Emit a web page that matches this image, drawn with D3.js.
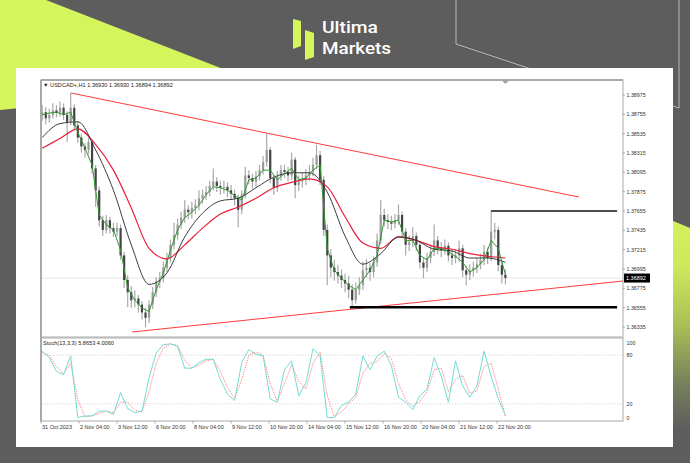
<!DOCTYPE html>
<html><head><meta charset="utf-8">
<script src="https://cdn.jsdelivr.net/npm/d3@7"></script>
<style>html,body{margin:0;padding:0;background:#5d5d5d;}svg{display:block;}</style>
</head><body>
<svg id="c" width="690" height="463"></svg>
<script>
// ---------------- DATA ----------------
const symbolTitle = "USDCAD+,H1  1.36930 1.36930 1.36894 1.36892";
const stochTitle = "Stoch(13,3,3) 5.8653 4.0060";
const lastPrice = 1.36892;
const firstOpen = 1.3874;
// 3-hour candles (each = 3 H1 bars)
const closes = [
1.3878,1.3871,1.3875,1.3880,1.3877,1.3883,1.3875,1.3867,1.3883,1.3863,
1.3849,1.3839,1.3835,1.3844,1.3814,1.3789,1.3755,1.3744,1.3755,1.3746,
1.3742,1.3746,1.3715,1.3687,1.3673,1.3664,1.3666,1.3659,1.3650,1.3644,
1.3659,1.3673,1.3685,1.3689,1.3701,1.3712,1.3727,1.3738,1.3750,1.3758,
1.3767,1.3764,1.3769,1.3772,1.3780,1.3784,1.3787,1.3794,1.3799,1.3794,
1.3792,1.3793,1.3789,1.3785,1.3780,1.3767,1.3784,1.3806,1.3803,1.3799,
1.3805,1.3812,1.3821,1.3835,1.3803,1.3792,1.3805,1.3812,1.3810,1.3806,
1.3824,1.3795,1.3799,1.3801,1.3806,1.3810,1.3818,1.3829,1.3801,1.3744,
1.3715,1.3701,1.3696,1.3692,1.3687,1.3683,1.3676,1.3664,1.3676,1.3681,
1.3698,1.3701,1.3696,1.3707,1.3732,1.3761,1.3755,1.3753,1.3751,1.3755,
1.3761,1.3742,1.3727,1.3730,1.3737,1.3727,1.3707,1.3701,1.3712,1.3719,
1.3732,1.3723,1.3721,1.3726,1.3715,1.3712,1.3715,1.3723,1.3698,1.3693,
1.3698,1.3701,1.3705,1.3710,1.3719,1.3712,1.3742,1.3744,1.3704,1.3693,1.36892];
const highs = [
1.3886,1.3884,1.3882,1.3888,1.3886,1.3890,1.3888,1.3879,1.3900,1.3887,
1.3868,1.3853,1.3843,1.3849,1.3847,1.3818,1.3793,1.3760,1.3761,1.3759,
1.3752,1.3752,1.3750,1.3719,1.3692,1.3680,1.3675,1.3670,1.3663,1.3655,
1.3664,1.3679,1.3690,1.3696,1.3708,1.3718,1.3733,1.3752,1.3757,1.3765,
1.3778,1.3772,1.3776,1.3779,1.3789,1.3790,1.3794,1.3800,1.3814,1.3804,
1.3800,1.3800,1.3798,1.3795,1.3790,1.3784,1.3789,1.3816,1.3812,1.3808,
1.3811,1.3818,1.3828,1.3854,1.3838,1.3806,1.3811,1.3818,1.3818,1.3816,
1.3832,1.3827,1.3806,1.3809,1.3813,1.3818,1.3826,1.3841,1.3834,1.3805,
1.3750,1.3722,1.3710,1.3704,1.3699,1.3694,1.3692,1.3682,1.3684,1.3690,
1.3708,1.3711,1.3706,1.3714,1.3740,1.3778,1.3768,1.3762,1.3760,1.3762,
1.3773,1.3765,1.3746,1.3738,1.3747,1.3741,1.3731,1.3712,1.3718,1.3727,
1.3750,1.3737,1.3730,1.3733,1.3730,1.3721,1.3722,1.3732,1.3727,1.3703,
1.3705,1.3708,1.3712,1.3717,1.3727,1.3724,1.3766,1.3752,1.3748,1.3708,1.3699];
const lows = [
1.3868,1.3864,1.3866,1.3871,1.3872,1.3873,1.3869,1.3844,1.3863,1.3858,
1.3843,1.3832,1.3826,1.3830,1.3808,1.3770,1.3748,1.3737,1.3740,1.3740,
1.3736,1.3737,1.3710,1.3678,1.3656,1.3655,1.3656,1.3650,1.3642,1.3633,
1.3638,1.3654,1.3668,1.3678,1.3684,1.3696,1.3707,1.3722,1.3733,1.3745,
1.3752,1.3756,1.3757,1.3762,1.3766,1.3774,1.3778,1.3782,1.3789,1.3787,
1.3784,1.3785,1.3781,1.3778,1.3772,1.3747,1.3762,1.3780,1.3796,1.3791,
1.3793,1.3800,1.3807,1.3816,1.3797,1.3784,1.3787,1.3800,1.3803,1.3799,
1.3801,1.3780,1.3788,1.3792,1.3795,1.3800,1.3805,1.3813,1.3795,1.3737,
1.3681,1.3690,1.3686,1.3683,1.3678,1.3673,1.3666,1.3656,1.3660,1.3670,
1.3676,1.3690,1.3686,1.3690,1.3702,1.3728,1.3748,1.3745,1.3744,1.3746,
1.3750,1.3735,1.3715,1.3720,1.3724,1.3720,1.3700,1.3689,1.3696,1.3706,
1.3714,1.3716,1.3713,1.3716,1.3708,1.3704,1.3706,1.3708,1.3690,1.3681,
1.3687,1.3691,1.3695,1.3699,1.3704,1.3705,1.3708,1.3733,1.3697,1.3683,1.3682];
// fast MA (green), one value every 2 candles
const maFast = [
1.3875,1.3877,1.3878,1.3875,1.3878,1.3855,1.3837,1.3818,1.3761,1.3750,
1.3744,1.3721,1.3678,1.3664,1.3655,1.3651,1.3676,1.3695,1.3721,1.3744,
1.3758,1.3764,1.3772,1.3784,1.3793,1.3792,1.3789,1.3783,1.3778,1.3801,
1.3803,1.3812,1.3812,1.3801,1.3808,1.3814,1.3801,1.3803,1.3812,1.3818,
1.3723,1.3698,1.3689,1.3681,1.3676,1.3687,1.3698,1.3715,1.3755,1.3753,
1.3755,1.3732,1.3732,1.3715,1.3710,1.3723,1.3723,1.3719,1.3714,1.3707,
1.3696,1.3701,1.3710,1.3732,1.3723,1.3693];
// middle MA (black) and slow MA (red), one value every 5 candles
const maMid = [1.3849,1.3865,1.3867,1.3835,1.3789,1.3727,1.3682,1.3695,1.3736,1.3763,
1.3777,1.3780,1.3792,1.3804,1.3809,1.3809,1.3787,1.3737,1.3705,1.3717,
1.3736,1.3732,1.3722,1.3720,1.3712,1.3712,1.3707];
const maSlow = [1.3837,1.3848,1.3859,1.3841,1.3812,1.3769,1.3723,1.3711,1.3727,1.3746,
1.3762,1.3770,1.3780,1.3792,1.3798,1.3802,1.3793,1.3759,1.3729,1.3723,
1.3736,1.3732,1.3725,1.3722,1.3717,1.3714,1.3712];
// stochastic, one value every 2 candles
const stochMain = [85,77,60,56,79,3,5,5,11,11,7,34,14,9,11,52,83,93,94,91,
64,64,71,75,75,50,32,24,71,87,81,79,26,22,62,73,30,46,88,79,
3,3,18,22,32,79,62,79,85,67,28,22,13,30,38,77,54,22,73,42,
28,42,85,54,26,6];
const stochSignal = [83,80,66,57,70,25,4,5,8,11,9,22,22,12,10,35,70,89,94,92,
74,64,68,73,75,60,40,27,50,80,84,80,45,23,45,68,48,38,70,84,
30,4,10,20,28,58,70,72,82,76,45,25,17,23,35,62,64,35,50,55,
33,36,66,70,38,4];
// drawn objects [barIndex, price]
const upperTrend = [[25.3,1.38998],[452.9,1.37814]];
const lowerTrend = [[76.6,1.36278],[490,1.36858]];
const supportLine = [[260,1.3656],[485,1.3656]];
const resistLine = [[379,1.37655],[485,1.37655]];
const priceTicks = [1.38975,1.38755,1.38535,1.38315,1.38095,1.37875,1.37655,1.37435,1.37215,1.36995,1.36775,1.36555,1.36335];
const stochTicks = [100,80,20,0];
const dateLabels = ["31 Oct 2023","2 Nov 04:00","3 Nov 12:00","6 Nov 20:00","8 Nov 04:00","9 Nov 12:00","10 Nov 20:00","14 Nov 04:00","15 Nov 12:00","16 Nov 20:00","20 Nov 04:00","21 Nov 12:00","22 Nov 20:00"];
const barsPerLabel = 32;

// ---------------- DRAW ----------------
const svg = d3.select('#c');
const FONT = "'Liberation Sans', Arial, 'DejaVu Sans', sans-serif";
const defs = svg.append('defs');
const rg = defs.append('linearGradient').attr('id','rg').attr('x1',0).attr('y1',0).attr('x2',0).attr('y2',1);
[[0,'#d6f65f'],[0.3,'#cde75c'],[0.55,'#a9bf55'],[0.8,'#76805c'],[1,'#5d5d5d']].forEach(s=>rg.append('stop').attr('offset',s[0]).attr('stop-color',s[1]));

svg.append('rect').attr('width',690).attr('height',463).attr('fill','#5d5d5d');
svg.append('polygon').attr('points','0,0 46,0 262,84 0,110').attr('fill','#d4f55c');
svg.append('polygon').attr('points','620,199 690,228 690,430 620,430').attr('fill','url(#rg)');
svg.append('path').attr('d','M456,0 V44 L540,72').attr('stroke','#cfcfcf').attr('stroke-width',0.8).attr('fill','none');
svg.append('path').attr('d','M679,0 V108 L673,106').attr('stroke','#cfcfcf').attr('stroke-width',0.8).attr('fill','none');

// logo
svg.append('polygon').attr('points','293,19 301,21 301,46 293,49').attr('fill','#d4f55c');
svg.append('polygon').attr('points','305,30 314,33 314,57 305,60').attr('fill','#d4f55c');
svg.append('text').attr('x',322).attr('y',33).text('Ultima').attr('fill','#fff').attr('font-family','Roboto, sans-serif').attr('font-weight',500).attr('font-size',17)
  .attr('textLength',56).attr('lengthAdjust','spacingAndGlyphs');
svg.append('text').attr('x',322).attr('y',54).text('Markets').attr('fill','#fff').attr('font-family','Roboto, sans-serif').attr('font-weight',500).attr('font-size',17)
  .attr('textLength',69).attr('lengthAdjust','spacingAndGlyphs');

// white panel
svg.append('rect').attr('x',16).attr('y',68).attr('width',657).attr('height',379).attr('fill','#fff');

const L=41, R=623, T=80, MB=337, ST=338, SB=421;
const x = d3.scaleLinear().domain([0,490]).range([L,R]);
const y = d3.scaleLinear().domain([1.36221,1.39146]).range([MB,T]);
const ys = d3.scaleLinear().domain([0,100]).range([420,339]);
const barOf = c => 3*c+1;

defs.append('clipPath').attr('id','cm').append('rect').attr('x',L).attr('y',T).attr('width',R-L).attr('height',MB-T);
defs.append('clipPath').attr('id','cs').append('rect').attr('x',L).attr('y',ST).attr('width',R-L).attr('height',SB-ST);

// current price line
svg.append('line').attr('x1',L).attr('x2',R).attr('y1',y(lastPrice)).attr('y2',y(lastPrice)).attr('stroke','#e6e6e6').attr('stroke-width',1);

const main = svg.append('g').attr('clip-path','url(#cm)');
const candles = closes.map((c,i)=>({i, o: i? closes[i-1]:firstOpen, c, h: highs[i], l: lows[i]}));
main.selectAll('line.w').data(candles).join('line').attr('class','w')
  .attr('x1',d=>x(barOf(d.i))).attr('x2',d=>x(barOf(d.i)))
  .attr('y1',d=>y(d.h)).attr('y2',d=>y(d.l)).attr('stroke','#aaaaaa').attr('stroke-width',1.2);
main.selectAll('rect.b').data(candles).join('rect').attr('class','b')
  .attr('x',d=>x(barOf(d.i))-1.1).attr('width',2.2)
  .attr('y',d=>y(Math.max(d.o,d.c))).attr('height',d=>Math.max(1,Math.abs(y(d.o)-y(d.c))))
  .attr('fill',d=>d.c>=d.o?'#9a9a9a':'#444444');

const lineP = d3.line().x(d=>x(d[0])).y(d=>y(d[1]));
main.append('path').datum(maSlow.map((v,k)=>[barOf(5*k),v])).attr('d',lineP.curve(d3.curveMonotoneX)).attr('fill','none').attr('stroke','#e8203c').attr('stroke-width',1.2);
main.append('path').datum(maMid.map((v,k)=>[barOf(5*k),v])).attr('d',lineP.curve(d3.curveMonotoneX)).attr('fill','none').attr('stroke','#262626').attr('stroke-width',0.9);
main.append('path').datum(maFast.map((v,k)=>[barOf(2*k),v])).attr('d',lineP.curve(d3.curveLinear)).attr('fill','none').attr('stroke','#2f9a2f').attr('stroke-width',1);

const straight = d3.line().x(d=>x(d[0])).y(d=>y(d[1]));
main.append('path').attr('d',straight(upperTrend)).attr('stroke','#ff3b3b').attr('stroke-width',1).attr('fill','none');
main.append('path').attr('d',straight(lowerTrend)).attr('stroke','#ff3b3b').attr('stroke-width',1).attr('fill','none');
main.append('path').attr('d',straight(supportLine)).attr('stroke','#000').attr('stroke-width',2.5).attr('fill','none');
main.append('path').attr('d',straight(resistLine)).attr('stroke','#111').attr('stroke-width',1.5).attr('fill','none');

// stochastic
svg.append('g').selectAll('line').data([80,20]).join('line').attr('x1',L).attr('x2',R)
  .attr('y1',d=>ys(d)).attr('y2',d=>ys(d)).attr('stroke','#cfcfcf').attr('stroke-width',0.8).attr('stroke-dasharray','1.5,1.5');
const sg = svg.append('g').attr('clip-path','url(#cs)');
const lineS = d3.line().x(d=>x(d[0])).y(d=>ys(d[1]));
sg.append('path').datum(stochSignal.map((v,k)=>[barOf(2*k),v])).attr('d',lineS).attr('fill','none').attr('stroke','#ff7a7a').attr('stroke-width',1).attr('stroke-dasharray','1.2,1.2');
sg.append('path').datum(stochMain.map((v,k)=>[barOf(2*k),v])).attr('d',lineS).attr('fill','none').attr('stroke','#72dcd6').attr('stroke-width',1);

// frames
const fr = svg.append('g').attr('fill','none');
fr.append('rect').attr('x',L).attr('y',T).attr('width',R-L).attr('height',MB-T).attr('stroke','#a9a9a9').attr('stroke-width',1);
fr.append('line').attr('x1',L).attr('x2',R).attr('y1',T).attr('y2',T).attr('stroke','#a9a9a9').attr('stroke-width',2);
fr.append('line').attr('x1',L).attr('x2',L).attr('y1',T).attr('y2',SB).attr('stroke','#a9a9a9').attr('stroke-width',2);
fr.append('rect').attr('x',L).attr('y',ST).attr('width',R-L).attr('height',SB-ST).attr('stroke','#a9a9a9').attr('stroke-width',1);
svg.append('polygon').attr('points',`${x(391)-3},${T+1} ${x(391)+3},${T+1} ${x(391)},${T+4}`).attr('fill','#a0a0a0');

// price axis
const ax = svg.append('g').attr('font-family',FONT).attr('font-size',5.3).attr('fill','#333');
ax.selectAll('text').data(priceTicks).join('text').attr('x',R+3.5).attr('y',d=>y(d)+1.9).text(d=>d.toFixed(5));
svg.append('g').selectAll('line').data(priceTicks).join('line').attr('x1',R).attr('x2',R+2).attr('y1',d=>y(d)).attr('y2',d=>y(d)).attr('stroke','#777').attr('stroke-width',0.6);
svg.append('rect').attr('x',R+1).attr('y',y(lastPrice)-4.5).attr('width',26).attr('height',9).attr('fill','#000');
svg.append('text').attr('x',R+3).attr('y',y(lastPrice)+2).attr('font-family',FONT).attr('font-size',5.5).attr('fill','#fff').text(lastPrice.toFixed(5));

// stoch axis
const sax = svg.append('g').attr('font-family',FONT).attr('font-size',5.3).attr('fill','#333');
sax.selectAll('text').data(stochTicks).join('text').attr('x',R+3.5)
  .attr('y',d=>Math.min(419.5,Math.max(345,ys(d)+2))).text(d=>d);

// date axis
const dg = svg.append('g').attr('font-family',FONT).attr('font-size',5.5).attr('fill','#333');
dg.selectAll('text').data(dateLabels).join('text').attr('x',(d,i)=>x(i*barsPerLabel)+1).attr('y',428.5).text(d=>d);
svg.append('g').selectAll('line').data(dateLabels).join('line').attr('x1',(d,i)=>x(i*barsPerLabel)).attr('x2',(d,i)=>x(i*barsPerLabel)).attr('y1',SB).attr('y2',SB+2.5).attr('stroke','#777').attr('stroke-width',0.6);

// titles
svg.append('text').attr('x',43).attr('y',87).attr('font-family',FONT).attr('font-size',5.6).attr('fill','#222').text('\u25BC ' + symbolTitle);
svg.append('text').attr('x',43).attr('y',345).attr('font-family',FONT).attr('font-size',5.6).attr('fill','#222').text(stochTitle);
</script>
</body></html>
